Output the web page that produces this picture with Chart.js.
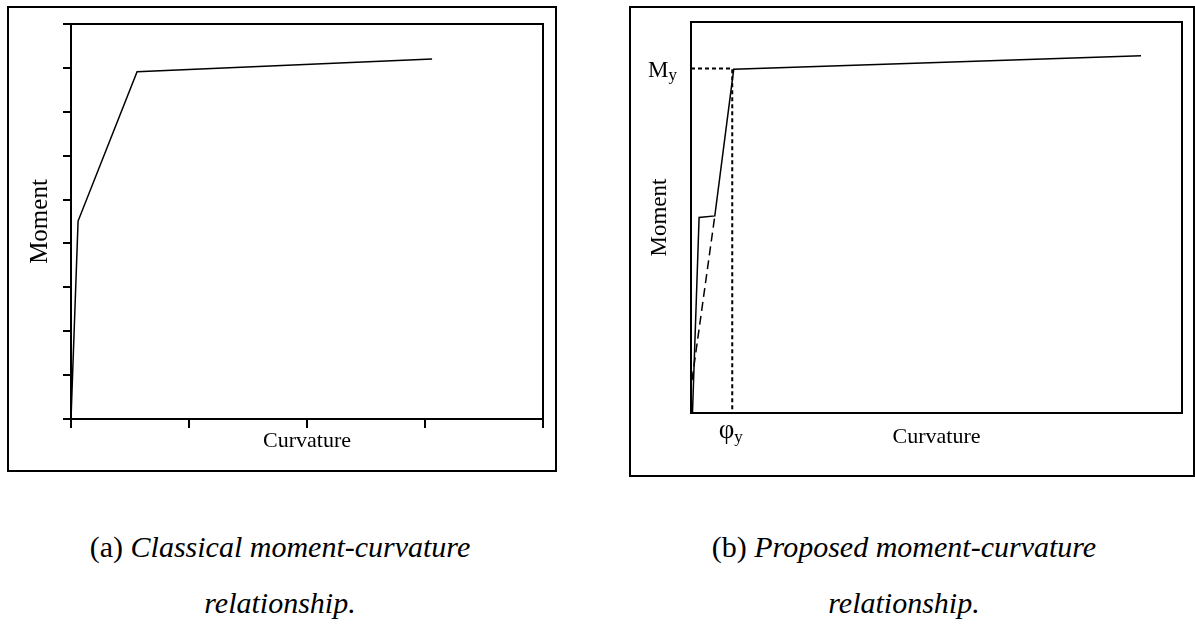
<!DOCTYPE html>
<html>
<head>
<meta charset="utf-8">
<script src="https://cdn.jsdelivr.net/npm/chart.js@4/dist/chart.umd.min.js"></script>
<style>
  html, body { margin: 0; padding: 0; background: #fff; }
  body { width: 1195px; height: 626px; position: relative; overflow: hidden; font-family: "Liberation Serif", serif; }
  .frame { position: absolute; box-sizing: border-box; border: 2px solid #000; }
  canvas { position: absolute; }
  .caption { position: absolute; text-align: center; font-size: 30px; line-height: 56px; color: #000; }
</style>
</head>
<body>
<div class="frame" style="left:7px;top:6px;width:550px;height:466px"></div>
<canvas id="chartA" width="550" height="466" style="left:7px;top:6px"></canvas>
<div class="frame" style="left:629px;top:6px;width:566px;height:471px"></div>
<canvas id="chartB" width="566" height="471" style="left:629px;top:6px"></canvas>

<div class="caption" style="left:20px;top:519px;width:520px">(a) <i>Classical moment-curvature</i><br><i>relationship.</i></div>
<div class="caption" style="left:654px;top:519px;width:500px">(b) <i>Proposed moment-curvature</i><br><i>relationship.</i></div>

<script>
'use strict';

// (a) classical curve: cracking, yield, ultimate
const classicX = [0, 0.06, 0.56, 3.06];
const classicY = [0, 4.51, 7.91, 8.2];

// (b) proposed curve
const proposedX = [0.003, 0.0165, 0.0485, 0.087, 0.9165];
const proposedY = [0, 0.5, 0.504, 0.879, 0.914];
// dashed secant up to the cracking plateau
const secantX = [0.002, 0.0485];
const secantY = [0.084, 0.504];
// yield point (M_y, phi_y)
const PHI_Y = 0.084;
const M_Y = 0.881;

const AXIS_FONT = { family: '"Liberation Serif", serif', size: 22 };
const BLACK = '#000';

const toPoints = (xs, ys) => xs.map((x, i) => ({ x, y: ys[i] }));

// draws the full plot box (top/right edges too)
const boxPlugin = {
  id: 'box',
  beforeDatasetsDraw(chart) {
    const { ctx, chartArea: a } = chart;
    ctx.save();
    ctx.strokeStyle = BLACK;
    ctx.lineWidth = 2;
    ctx.strokeRect(a.left, a.top, a.right - a.left, a.bottom - a.top);
    ctx.restore();
  }
};

function lineSet(data, extra) {
  return Object.assign({
    data,
    showLine: true,
    borderColor: BLACK,
    borderWidth: 1.5,
    pointRadius: 0,
    fill: false,
    tension: 0
  }, extra || {});
}

// ---------- chart (a) ----------
new Chart(document.getElementById('chartA'), {
  type: 'scatter',
  data: { datasets: [lineSet(toPoints(classicX, classicY))] },
  options: {
    responsive: false,
    animation: false,
    layout: { padding: { top: 18, right: 14, bottom: 0, left: 0 } },
    plugins: { legend: { display: false }, tooltip: { enabled: false } },
    scales: {
      x: {
        type: 'linear', min: 0, max: 4,
        ticks: { stepSize: 1, display: false },
        grid: { drawOnChartArea: false, drawTicks: true, tickLength: 9, color: BLACK, lineWidth: 2 },
        border: { display: true, color: BLACK, width: 2 },
        title: { display: true, text: 'Curvature', color: BLACK, font: AXIS_FONT, padding: { top: 0, bottom: 18 } },
        afterFit: s => { s.height = 53; }
      },
      y: {
        type: 'linear', min: 0, max: 9,
        ticks: { stepSize: 1, display: false },
        grid: { drawOnChartArea: false, drawTicks: true, tickLength: 8, color: BLACK, lineWidth: 2 },
        border: { display: true, color: BLACK, width: 2 },
        title: { display: true, text: 'Moment', color: BLACK, font: { family: AXIS_FONT.family, size: 25 }, padding: { top: 18, bottom: 0 } },
        afterFit: s => { s.width = 64; }
      }
    }
  },
  plugins: [boxPlugin]
});

// M_y and phi_y labels next to the dotted yield lines
const yieldLabels = {
  id: 'yieldLabels',
  afterDraw(chart) {
    const { ctx } = chart;
    const xs = chart.scales.x, ys = chart.scales.y;
    const px = xs.getPixelForValue(PHI_Y);
    const py = ys.getPixelForValue(M_Y);
    ctx.save();
    ctx.fillStyle = BLACK;
    ctx.textBaseline = 'alphabetic';
    ctx.textAlign = 'left';
    ctx.font = '23px "Liberation Serif", serif';
    const mx = xs.left - 43;
    const mW = ctx.measureText('M').width;
    ctx.fillText('M', mx, py + 8);
    ctx.font = '17px "Liberation Serif", serif';
    ctx.fillText('y', mx + mW, py + 11);

    ctx.font = '27px "Liberation Serif", serif';
    ctx.textAlign = 'right';
    ctx.fillText('\u03C6', px + 2, ys.bottom + 25);
    ctx.textAlign = 'left';
    ctx.font = '17px "Liberation Serif", serif';
    ctx.fillText('y', px + 2, ys.bottom + 29);
    ctx.restore();
  }
};

// ---------- chart (b) ----------
new Chart(document.getElementById('chartB'), {
  type: 'scatter',
  data: {
    datasets: [
      lineSet(toPoints(proposedX, proposedY)),
      lineSet(toPoints(secantX, secantY), { borderDash: [9, 5] }),
      lineSet([{ x: 0, y: M_Y }, { x: PHI_Y, y: M_Y }, { x: PHI_Y, y: 0 }], { borderDash: [4, 3], borderWidth: 2 })
    ]
  },
  options: {
    responsive: false,
    animation: false,
    layout: { padding: { top: 16, right: 13, bottom: 0, left: 0 } },
    plugins: { legend: { display: false }, tooltip: { enabled: false } },
    scales: {
      x: {
        type: 'linear', min: 0, max: 1,
        ticks: { display: false },
        grid: { display: false },
        border: { display: true, color: BLACK, width: 2 },
        title: { display: true, text: 'Curvature', color: BLACK, font: AXIS_FONT, padding: { top: 0, bottom: 27 } },
        afterFit: s => { s.height = 64; }
      },
      y: {
        type: 'linear', min: 0, max: 1,
        ticks: { display: false },
        grid: { display: false },
        border: { display: true, color: BLACK, width: 2 },
        title: { display: true, text: 'Moment', color: BLACK, font: { family: AXIS_FONT.family, size: 23 }, padding: { top: 17, bottom: 0 } },
        afterFit: s => { s.width = 62; }
      }
    }
  },
  plugins: [boxPlugin, yieldLabels]
});
</script>
</body>
</html>
